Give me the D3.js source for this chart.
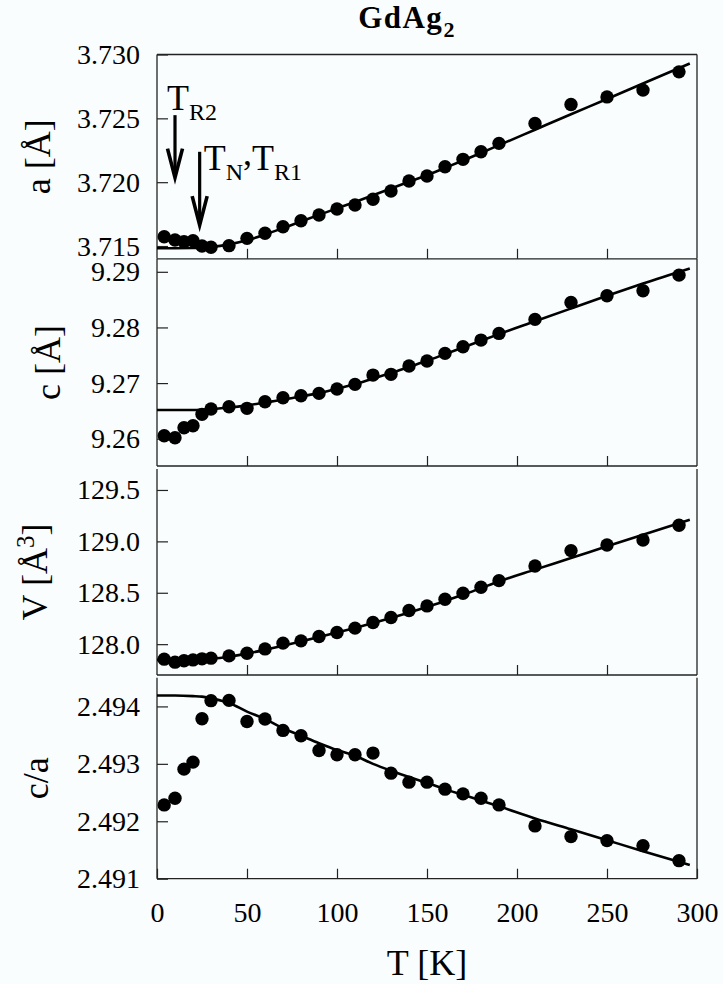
<!DOCTYPE html>
<html>
<head>
<meta charset="utf-8">
<script src="https://cdn.jsdelivr.net/npm/d3@7"></script>
<style>
  html, body { margin: 0; padding: 0; background: #fafdfd; }
  svg { display: block; }
  text { font-family: "Liberation Serif", "Times New Roman", serif; fill: #000; }
</style>
</head>
<body>
<svg id="chart" width="723" height="984"></svg>
<script>
// Temperatures of the measured points [K]
const temps = [4, 10, 15, 20, 25, 30, 40, 50, 60, 70, 80, 90, 100, 110, 120, 130, 140, 150, 160, 170, 180, 190, 210, 230, 250, 270, 290];

// Lattice parameter a [Å]
const aValues = [3.71573, 3.71547, 3.71534, 3.71542, 3.71500, 3.71490, 3.71503, 3.71560, 3.71600, 3.71651, 3.71698, 3.71743, 3.71790, 3.71821, 3.71866, 3.71931, 3.72009, 3.72048, 3.72121, 3.72179, 3.72238, 3.72304, 3.72460, 3.72609, 3.72668, 3.72721, 3.72864];
// Lattice parameter c [Å]
const cValues = [9.26054, 9.26018, 9.26198, 9.26234, 9.26438, 9.26534, 9.26575, 9.26546, 9.26665, 9.26737, 9.26772, 9.26815, 9.26893, 9.26977, 9.27144, 9.27157, 9.27306, 9.27396, 9.27534, 9.27653, 9.27773, 9.27893, 9.28145, 9.28450, 9.28569, 9.28659, 9.28940];
// Unit-cell volume V [Å^3]
const vValues = [127.854, 127.825, 127.838, 127.847, 127.857, 127.864, 127.886, 127.912, 127.954, 128.010, 128.032, 128.074, 128.113, 128.156, 128.210, 128.259, 128.327, 128.372, 128.437, 128.496, 128.554, 128.618, 128.761, 128.910, 128.965, 129.014, 129.157];
// Ratio c/a
const caValues = [2.492285, 2.492402, 2.492908, 2.493030, 2.493786, 2.494100, 2.494105, 2.493738, 2.493780, 2.493582, 2.493489, 2.493233, 2.493158, 2.493158, 2.493187, 2.492838, 2.492681, 2.492681, 2.492559, 2.492477, 2.492402, 2.492285, 2.491919, 2.491733, 2.491663, 2.491576, 2.491314];

// Fitted curves, sampled at these temperatures
const fitTemps = [0, 10, 20, 25, 30, 40, 50, 60, 70, 80, 90, 100, 110, 120, 130, 140, 150, 160, 170, 180, 190, 210, 230, 250, 270, 296];
const aFit = [3.71483, 3.71483, 3.71484, 3.71487, 3.71493, 3.71513, 3.71545, 3.71590, 3.71640, 3.71692, 3.71744, 3.71795, 3.71845, 3.71897, 3.71950, 3.72003, 3.72055, 3.72112, 3.72170, 3.72229, 3.72290, 3.72411, 3.72532, 3.72652, 3.72773, 3.72930];
const cFit = [9.26516, 9.26516, 9.26517, 9.26522, 9.26530, 9.26560, 9.26600, 9.26650, 9.26700, 9.26760, 9.26820, 9.26900, 9.26980, 9.27080, 9.27180, 9.27290, 9.27400, 9.27520, 9.27640, 9.27760, 9.27880, 9.28110, 9.28340, 9.28570, 9.28790, 9.29060];
const vFit = [127.847, 127.847, 127.849, 127.852, 127.858, 127.878, 127.908, 127.945, 127.985, 128.027, 128.070, 128.113, 128.158, 128.205, 128.255, 128.308, 128.362, 128.420, 128.480, 128.545, 128.610, 128.725, 128.838, 128.952, 129.065, 129.210];
const caFit = [2.49419, 2.49419, 2.49418, 2.49417, 2.49414, 2.49406, 2.49391, 2.49378, 2.49362, 2.49349, 2.49336, 2.49324, 2.49314, 2.49300, 2.49288, 2.49277, 2.49267, 2.49256, 2.49246, 2.49236, 2.49226, 2.49205, 2.49186, 2.49167, 2.49148, 2.49124];

// Axis ticks
const xTickValues = [0, 50, 100, 150, 200, 250, 300];
const aTicks = [3.715, 3.720, 3.725, 3.730];
const cTicks = [9.26, 9.27, 9.28, 9.29];
const vTicks = [128.0, 128.5, 129.0, 129.5];
const caTicks = [2.491, 2.492, 2.493, 2.494];

// Transition temperatures marked with arrows [K]
const transitionTemps = [10, 23.7];

const svg = d3.select("#chart");
const left = 157, right = 697;
const x = d3.scaleLinear().domain([0, 300]).range([left, right]);

const panels = [
  { top: 54.5, bottom: 258.8, domain: [3.714, 3.730], ticks: aTicks, fmt: d3.format(".3f"), values: aValues, fit: aFit, labelX: 50, label: "a" },
  { top: 259, bottom: 466, domain: [9.2551, 9.2923], ticks: cTicks, fmt: d3.format(".2f"), values: cValues, fit: cFit, labelX: 60, label: "c" },
  { top: 469, bottom: 675, domain: [127.70, 129.704], ticks: vTicks, fmt: d3.format(".1f"), values: vValues, fit: vFit, labelX: 47, label: "V" },
  { top: 677.7, bottom: 878.7, domain: [2.491, 2.4945], ticks: caTicks, fmt: d3.format(".3f"), values: caValues, fit: caFit, labelX: 48, label: "c/a" }
];

panels.forEach((p, i) => {
  p.y = d3.scaleLinear().domain(p.domain).range([p.bottom, p.top]);
  const g = svg.append("g");

  // left axis with inward ticks
  const yAxis = d3.axisLeft(p.y).tickValues(p.ticks).tickFormat(p.fmt)
    .tickSizeInner(-11).tickSizeOuter(0).tickPadding(17);
  const ya = g.append("g").attr("transform", `translate(${left},0)`).call(yAxis);
  ya.select(".domain").remove();
  ya.selectAll(".tick line").attr("stroke", "#222").attr("stroke-width", 1.2);
  ya.selectAll(".tick text").style("font-size", "28px").attr("fill", "#000")
    .style("font-family", "'Liberation Serif', 'Times New Roman', serif");

  // bottom axis with inward ticks
  const last = i === panels.length - 1;
  const xAxis = d3.axisBottom(x).tickValues(last ? xTickValues : xTickValues.slice(1, -1))
    .tickSizeInner(-10).tickSizeOuter(0).tickPadding(23)
    .tickFormat(last ? d3.format("d") : () => "");
  const xa = g.append("g").attr("transform", `translate(0,${p.bottom})`).call(xAxis);
  xa.select(".domain").remove();
  xa.selectAll(".tick line").attr("stroke", "#222").attr("stroke-width", 1.2);
  xa.selectAll(".tick text").style("font-size", "28px").attr("fill", "#000")
    .style("font-family", "'Liberation Serif', 'Times New Roman', serif");

  // frame: left, right, bottom (top only on the first panel)
  const frame = [
    [[left, p.top], [left, p.bottom]],
    [[right, p.top], [right, p.bottom]],
    [[left, p.bottom], [right, p.bottom]]
  ];
  if (i === 0) frame.push([[left, p.top], [right, p.top]]);
  g.selectAll("line.frame").data(frame).join("line")
    .attr("class", "frame")
    .attr("x1", d => d[0][0]).attr("y1", d => d[0][1])
    .attr("x2", d => d[1][0]).attr("y2", d => d[1][1])
    .attr("stroke", "#222").attr("stroke-width", 1.3);

  // fitted curve
  const line = d3.line().x(d => x(d[0])).y(d => p.y(d[1])).curve(d3.curveMonotoneX);
  g.append("path").datum(d3.zip(fitTemps, p.fit))
    .attr("d", line).attr("fill", "none").attr("stroke", "#000").attr("stroke-width", 2.6);

  // measured points
  g.selectAll("circle").data(d3.zip(temps, p.values)).join("circle")
    .attr("cx", d => x(d[0])).attr("cy", d => p.y(d[1])).attr("r", 6.7).attr("fill", "#000");

  // y-axis title
  const mid = (p.top + p.bottom) / 2;
  const t = svg.append("text")
    .attr("transform", `translate(${p.labelX},${mid}) rotate(-90)`)
    .attr("text-anchor", "middle").style("font-size", "36px");
  if (p.label === "c/a") {
    t.text("c/a");
  } else {
    t.append("tspan").text(p.label + " [Å");
    if (p.label === "V") {
      t.append("tspan").attr("dy", -13).style("font-size", "25px").text("3");
      t.append("tspan").attr("dy", 13).text("]");
    } else {
      t.append("tspan").text("]");
    }
  }
});

// title
const title = svg.append("text").attr("x", 407).attr("y", 28)
  .attr("text-anchor", "middle").style("font-size", "31px").style("font-weight", "bold")
  .style("letter-spacing", "1.5px");
title.append("tspan").text("GdAg");
title.append("tspan").attr("dy", 9).style("font-size", "22px").text("2");

// x-axis title
svg.append("text").attr("x", 427).attr("y", 975).attr("text-anchor", "middle")
  .style("font-size", "36px").text("T [K]");

// arrows marking the transitions (drawn in the a-panel coordinates)
const pa = panels[0];
const arrowSpecs = [
  { T: transitionTemps[0], from: 3.72525, to: 3.72036 },
  { T: transitionTemps[1], from: 3.72238, to: 3.71664 }
];
arrowSpecs.forEach(s => {
  const ax = x(s.T), y0 = pa.y(s.from), y1 = pa.y(s.to);
  svg.append("line").attr("x1", ax).attr("x2", ax).attr("y1", y0).attr("y2", y1 - 2)
    .attr("stroke", "#000").attr("stroke-width", 3.2);
  svg.append("path")
    .attr("d", `M${ax - 7.5},${y1 - 29} L${ax},${y1} L${ax + 7.5},${y1 - 29}`)
    .attr("fill", "none").attr("stroke", "#000").attr("stroke-width", 3.6)
    .attr("stroke-linejoin", "miter");
});

// transition labels
const lab1 = svg.append("text").attr("x", x(transitionTemps[0]) - 8).attr("y", 110).style("font-size", "36px");
lab1.append("tspan").text("T");
lab1.append("tspan").attr("dy", 10).style("font-size", "24px").text("R2");

const lab2 = svg.append("text").attr("x", x(transitionTemps[1]) + 4).attr("y", 170).style("font-size", "36px");
lab2.append("tspan").text("T");
lab2.append("tspan").attr("dy", 10).style("font-size", "24px").text("N");
lab2.append("tspan").attr("dy", -15).text(",");
lab2.append("tspan").attr("dy", 5).text("T");
lab2.append("tspan").attr("dy", 10).style("font-size", "24px").text("R1");
</script>
</body>
</html>
